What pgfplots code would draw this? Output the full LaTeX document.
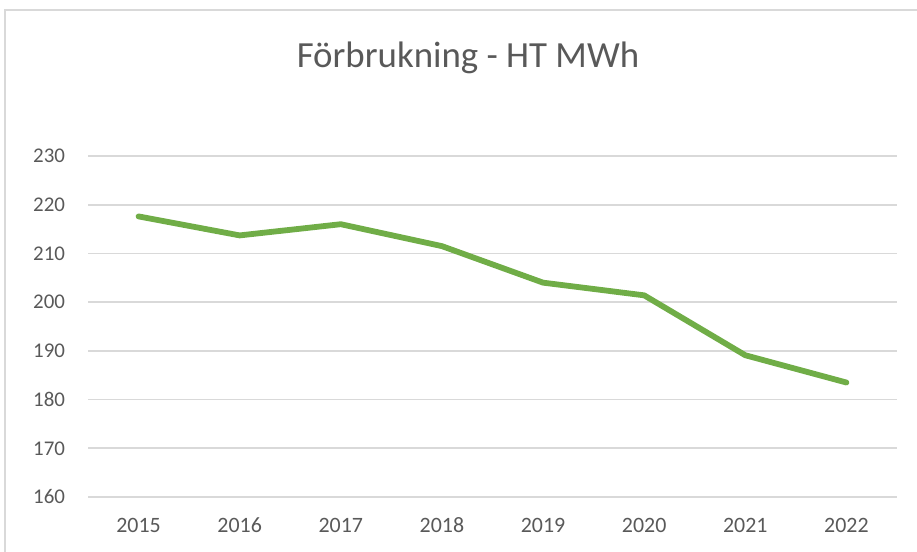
\documentclass[border=0pt]{standalone}
\usepackage{fontspec}
\setmainfont{Carlito}
\usepackage{pgfplots}
\pgfplotsset{compat=1.18}
\definecolor{linegreen}{HTML}{70AD47}
\definecolor{gridgray}{HTML}{D9D9D9}
\definecolor{textgray}{HTML}{595959}
\begin{document}
\begin{tikzpicture}
\path[use as bounding box] (0,0) rectangle (458.5bp,276bp);
\draw[gridgray, line width=0.8bp] (2.5bp,0) -- (2.5bp,271bp) -- (458.5bp,271bp);
\node[anchor=base, text=textgray, font=\fontsize{18.5}{22}\selectfont] at (234bp,242bp) {Förbrukning - HT MWh};
\begin{axis}[
  at={(44bp,27.5bp)}, anchor=south west,
  scale only axis, width=404.5bp, height=170.5bp,
  xmin=-0.5, xmax=7.5, ymin=160, ymax=230,
  xtick={0,...,7},
  xticklabels={2015,2016,2017,2018,2019,2020,2021,2022},
  ytick={160,170,...,230},
  axis line style={draw=none},
  ymajorgrids, grid style={gridgray, line width=0.8bp},
  major tick length=0pt,
  /pgf/number format/assume math mode=true,
  tick label style={text=textgray},
  yticklabel style={xshift=-8bp, font=\fontsize{10.5}{12}\selectfont},
  xticklabel style={anchor=base, yshift=-17.5bp, font=\fontsize{11}{13}\selectfont},
  clip=false,
]
\addplot[linegreen, line width=2.9bp, line join=round, line cap=round] coordinates {
(0,217.6) (1,213.7) (2,216.0) (3,211.5) (4,204.0) (5,201.4) (6,189.1) (7,183.5)
};
\end{axis}
\end{tikzpicture}
\end{document}
